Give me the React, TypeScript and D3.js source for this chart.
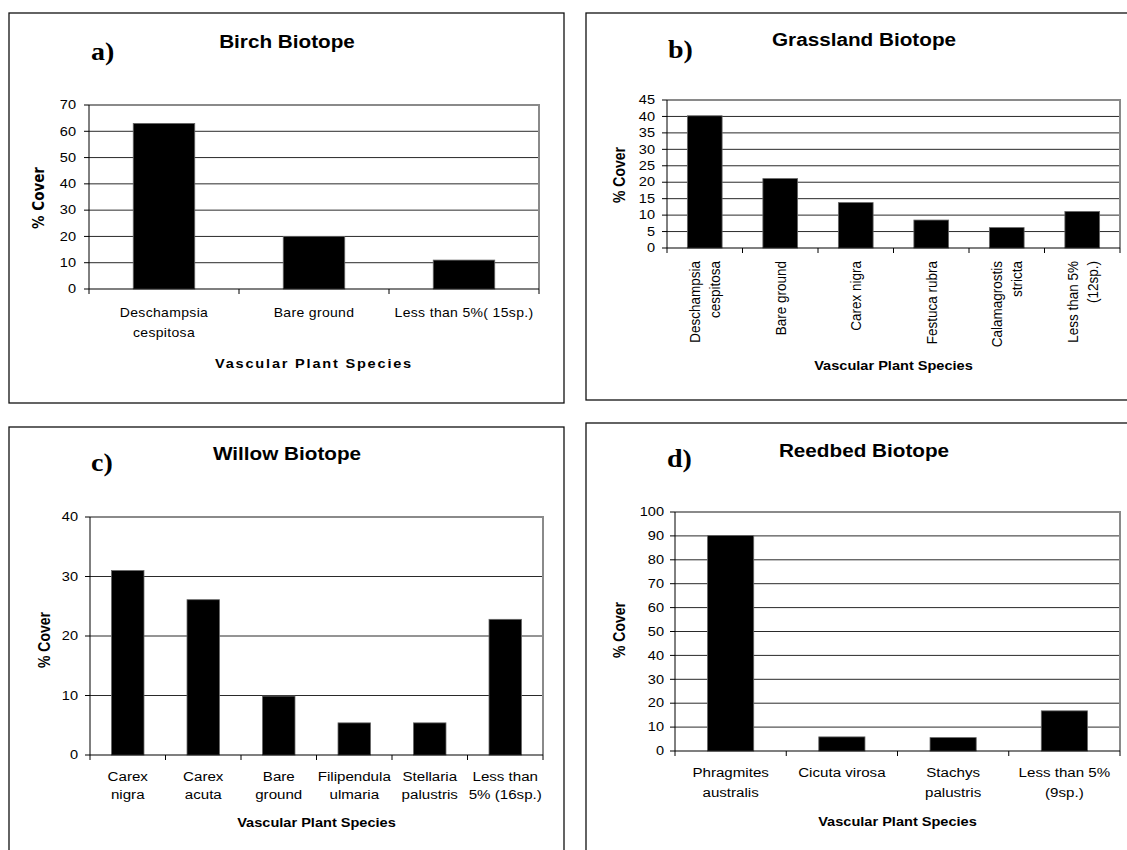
import React from "react";
import * as d3 from "d3";

// ---------- data ----------
const birchCategories = [["Deschampsia", "cespitosa"], ["Bare ground"], ["Less than 5%( 15sp.)"]];
const birchValues = [63, 20, 11];
const birchTicks = [0, 10, 20, 30, 40, 50, 60, 70];

const grasslandCategories = [
  ["Deschampsia", "cespitosa"],
  ["Bare ground"],
  ["Carex nigra"],
  ["Festuca rubra"],
  ["Calamagrostis", "stricta"],
  ["Less than 5%", "(12sp.)"],
];
const grasslandValues = [40.2, 21.1, 13.8, 8.5, 6.2, 11.1];
const grasslandTicks = [0, 5, 10, 15, 20, 25, 30, 35, 40, 45];

const willowCategories = [
  ["Carex", "nigra"],
  ["Carex", "acuta"],
  ["Bare", "ground"],
  ["Filipendula", "ulmaria"],
  ["Stellaria", "palustris"],
  ["Less than", "5% (16sp.)"],
];
const willowValues = [31, 26.1, 9.9, 5.4, 5.4, 22.8];
const willowTicks = [0, 10, 20, 30, 40];

const reedbedCategories = [["Phragmites", "australis"], ["Cicuta virosa"], ["Stachys", "palustris"], ["Less than 5%", "(9sp.)"]];
const reedbedValues = [90.2, 5.9, 5.6, 16.8];
const reedbedTicks = [0, 10, 20, 30, 40, 50, 60, 70, 80, 90, 100];

const titles = ["Birch Biotope", "Grassland Biotope", "Willow Biotope", "Reedbed Biotope"];
const letters = ["a)", "b)", "c)", "d)"];
const yTitle = "% Cover";
const xTitle = "Vascular Plant Species";

// ---------- style ----------
const SX = 1.12;
const SANS = "'Liberation Sans', Arial, Helvetica, sans-serif";
const SERIF = "'Liberation Serif', 'Times New Roman', serif";

function T({ x, y, rot = 0, children, ...rest }: any) {
  return (
    <text transform={`translate(${x},${y}) scale(${SX},1)${rot ? ` rotate(${rot})` : ""}`} {...rest}>
      {children}
    </text>
  );
}

type PanelCfg = {
  frame: [number, number, number, number];
  plot: [number, number, number, number];
  cats: string[][];
  values: number[];
  ticks: number[];
  title: string;
  titleX: number;
  titleY: number;
  letter: string;
  letterX: number;
  letterY: number;
  yLabelX: number;
  yLabelY: number;
  xTitleY: number;
  pad: number;
  labelY: number;
  lineH: number;
  tickGap: number;
  rotated?: boolean;
  catFont: number;
  odd?: boolean;
};

function Panel({ c }: { c: PanelCfg }) {
  const [px0, py0, px1, py1] = c.plot;
  const idx = c.cats.map((_, i) => String(i));
  const x = d3.scaleBand().domain(idx).range([px0, px1]).paddingInner(c.pad).paddingOuter(c.pad / 2);
  const yMax = c.ticks[c.ticks.length - 1];
  const y = d3.scaleLinear().domain([0, yMax]).range([py1, py0]);
  const step = x.step();
  const bounds = d3.range(c.cats.length + 1).map((i) => px0 + i * step);
  const [fx0, fy0, fx1, fy1] = c.frame;
  return (
    <g>
      <rect x={fx0} y={fy0} width={fx1 - fx0} height={fy1 - fy0} fill="white" stroke="#111" strokeWidth={1.3} />
      {/* gridlines */}
      {c.ticks.slice(1, -1).map((t) => (
        <line key={"g" + t} x1={px0} x2={px1} y1={y(t)} y2={y(t)} stroke="#2a2a2a" strokeWidth={1} />
      ))}
      {/* plot border top/right */}
      <path d={`M${px0},${py0}H${px1}V${py1}`} fill="none" stroke="#8a8a8a" strokeWidth={2} />
      {/* bars */}
      {c.values.map((v, i) => (
        <rect
          key={"b" + i}
          x={x(String(i))}
          y={y(v)}
          width={x.bandwidth()}
          height={py1 - y(v)}
          fill="#000"
          stroke="#666"
          strokeWidth={0.8}
        />
      ))}
      {/* axes */}
      <line x1={px0} x2={px0} y1={py0} y2={py1} stroke="#000" strokeWidth={1} />
      <line x1={px0} x2={px1} y1={py1} y2={py1} stroke="#000" strokeWidth={1.2} />
      {c.ticks.map((t) => (
        <g key={"t" + t}>
          <line x1={px0 - 5} x2={px0} y1={y(t)} y2={y(t)} stroke="#000" strokeWidth={1} />
          <T x={px0 - c.tickGap} y={y(t)} textAnchor="end" dominantBaseline="central" fontFamily={SANS} fontSize={13} fill="#000">
            {t}
          </T>
        </g>
      ))}
      {bounds.map((b, i) => (
        <line key={"xt" + i} x1={b} x2={b} y1={py1} y2={py1 + 5} stroke="#000" strokeWidth={1} />
      ))}
      {/* category labels */}
      {c.cats.map((lines, i) => {
        const cx = (x(String(i)) as number) + x.bandwidth() / 2;
        if (c.rotated) {
          return lines.map((ln, j) => {
            const lx = cx + (j - (lines.length - 1) / 2) * 20;
            return (
              <T
                key={"c" + i + "_" + j}
                x={lx}
                y={c.labelY}
                rot={-90}
                textAnchor="end"
                dominantBaseline="central"
                fontFamily={SANS}
                fontSize={c.catFont}
              >
                {ln}
              </T>
            );
          });
        }
        return lines.map((ln, j) => (
          <T
            key={"c" + i + "_" + j}
            x={cx}
            y={c.labelY + j * c.lineH}
            textAnchor="middle"
            fontFamily={SANS}
            fontSize={c.catFont}
            letterSpacing={c.odd ? 0.3 : 0}
          >
            {ln}
          </T>
        ));
      })}
      {/* axis titles */}
      <T
        x={c.yLabelX}
        y={c.yLabelY}
        rot={-90}
        textAnchor="middle"
        dominantBaseline="central"
        fontFamily={c.odd ? "'DejaVu Sans', sans-serif" : SANS}
        fontWeight="bold"
        fontSize={c.odd ? 13.5 : 14}
      >
        {yTitle}
      </T>
      <T
        x={(px0 + px1) / 2}
        y={c.xTitleY}
        textAnchor="middle"
        fontFamily={SANS}
        fontWeight="bold"
        fontSize={13}
        letterSpacing={c.odd ? 1.6 : 0}
      >
        {xTitle}
      </T>
      <T x={c.titleX} y={c.titleY} textAnchor="middle" fontFamily={SANS} fontWeight="bold" fontSize={18.5}>
        {c.title}
      </T>
      <T x={c.letterX} y={c.letterY} fontFamily={SERIF} fontWeight="bold" fontSize={25}>
        {c.letter}
      </T>
    </g>
  );
}

const panels: PanelCfg[] = [
  {
    frame: [9, 13, 564, 403],
    plot: [89, 105, 539, 289],
    cats: birchCategories,
    values: birchValues,
    ticks: birchTicks,
    title: titles[0],
    titleX: 287,
    titleY: 48,
    letter: letters[0],
    letterX: 91,
    letterY: 60,
    yLabelX: 39,
    yLabelY: 198,
    xTitleY: 368,
    pad: 0.59,
    labelY: 317,
    lineH: 20,
    tickGap: 13,
    catFont: 12.5,
    odd: true,
  },
  {
    frame: [586, 13, 1142, 400],
    plot: [667, 100, 1120, 248],
    cats: grasslandCategories,
    values: grasslandValues,
    ticks: grasslandTicks,
    title: titles[1],
    titleX: 864,
    titleY: 46,
    letter: letters[1],
    letterX: 668,
    letterY: 58,
    yLabelX: 620,
    yLabelY: 175,
    xTitleY: 370,
    pad: 0.54,
    labelY: 261,
    lineH: 20,
    tickGap: 12,
    rotated: true,
    catFont: 13.5,
  },
  {
    frame: [9, 427, 564, 870],
    plot: [90, 517, 543, 755],
    cats: willowCategories,
    values: willowValues,
    ticks: willowTicks,
    title: titles[2],
    titleX: 287,
    titleY: 460,
    letter: letters[2],
    letterX: 91,
    letterY: 471,
    yLabelX: 45,
    yLabelY: 640,
    xTitleY: 827,
    pad: 0.57,
    labelY: 781,
    lineH: 18,
    tickGap: 12,
    catFont: 13.5,
  },
  {
    frame: [586, 423, 1142, 870],
    plot: [675, 512, 1120, 751],
    cats: reedbedCategories,
    values: reedbedValues,
    ticks: reedbedTicks,
    title: titles[3],
    titleX: 864,
    titleY: 457,
    letter: letters[3],
    letterX: 667,
    letterY: 467,
    yLabelX: 620,
    yLabelY: 630,
    xTitleY: 826,
    pad: 0.585,
    labelY: 777,
    lineH: 20,
    tickGap: 11,
    catFont: 13.5,
  },
];

export default function App() {
  return (
    <svg
      width={1127}
      height={850}
      style={{ position: "absolute", left: 0, top: 0, background: "#fff" }}
      xmlns="http://www.w3.org/2000/svg"
    >
      <rect x={0} y={0} width={1127} height={850} fill="#fff" />
      {panels.map((p, i) => (
        <Panel key={i} c={p} />
      ))}
    </svg>
  );
}
